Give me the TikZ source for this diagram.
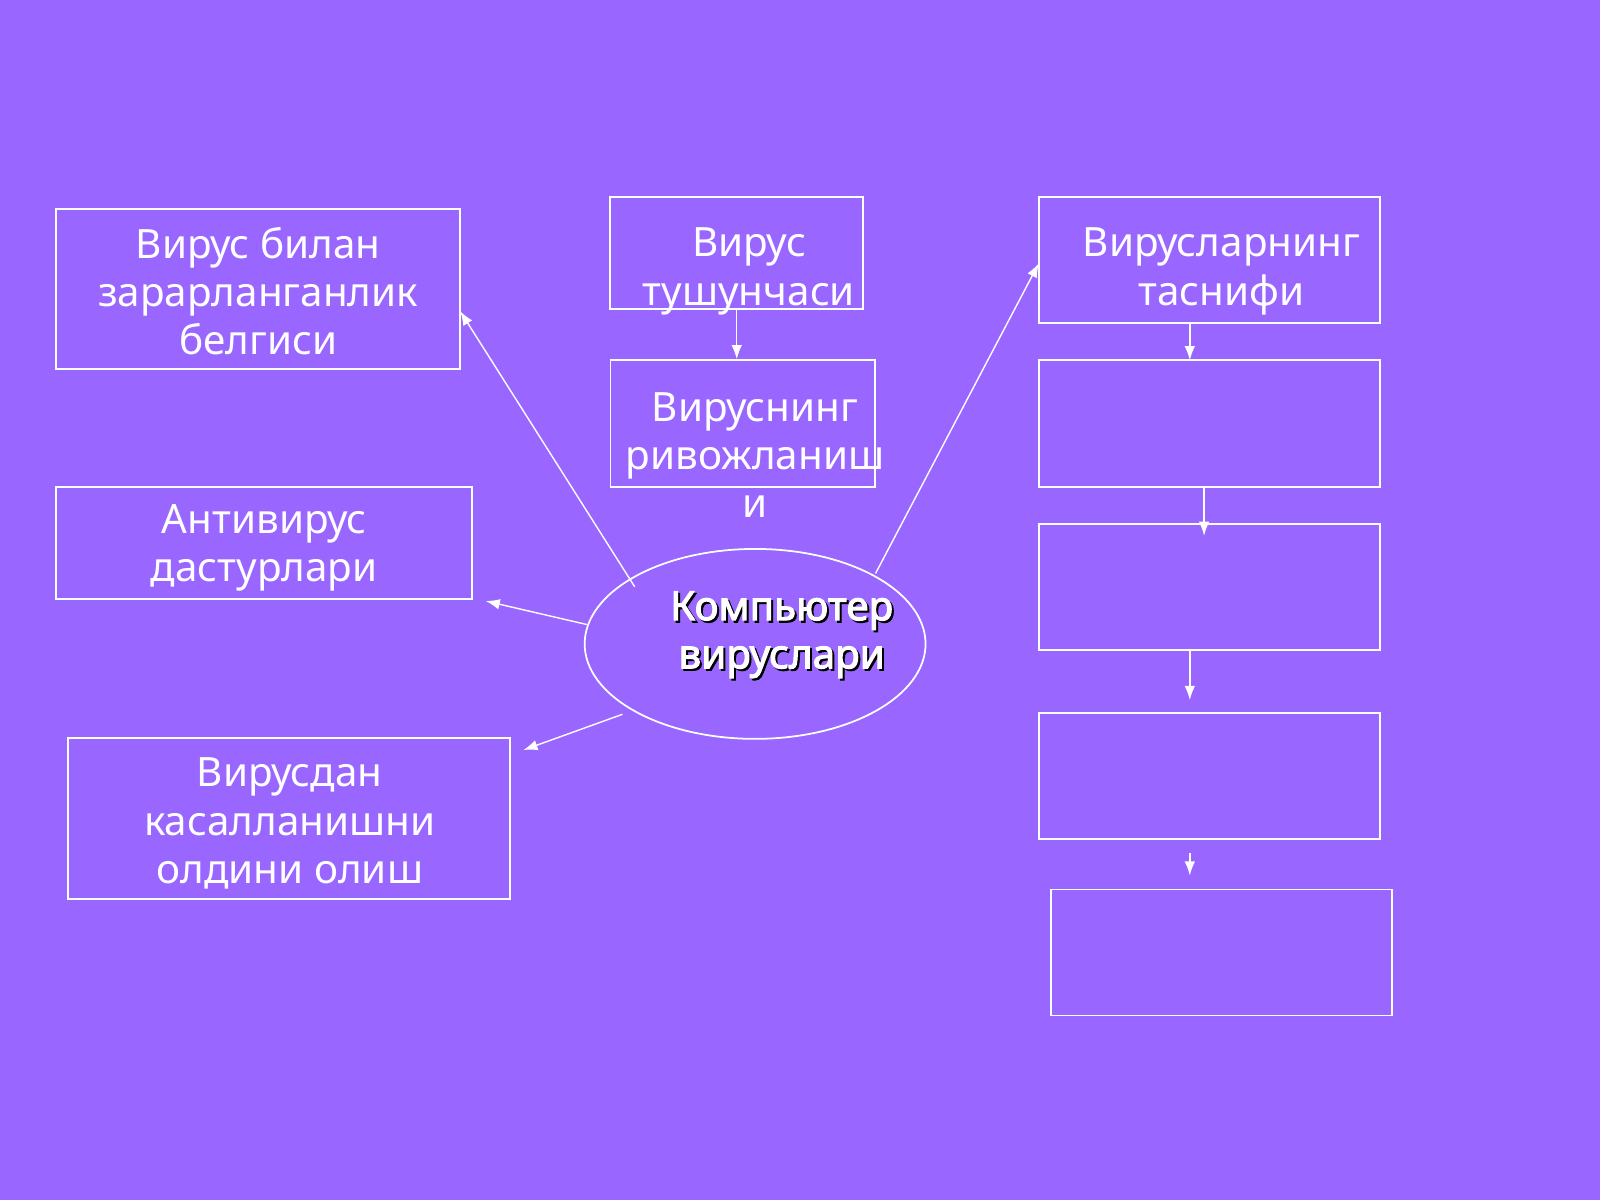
\documentclass[tikz,border=0pt]{standalone}
\usepackage{fontspec}
\setmainfont{Noto Sans}
\newfontfamily\corefont[FakeBold=2.5]{Noto Sans}
\usetikzlibrary{shapes.geometric,arrows.meta}
\definecolor{slidebg}{HTML}{9966FF}

\begin{document}
\begin{tikzpicture}[x=0.010204cm,y=-0.010204cm,
    box/.style={draw=white,line width=0.5pt,inner sep=0pt},
    txt/.style={text=white,align=center,font=\fontsize{11.5}{13.7}\selectfont,inner sep=0pt},
    arr/.style={draw=white,line width=0.4pt,-{Latex[length=4pt,width=3pt]}}]
    \fill[slidebg] (0,0) rectangle (1568,1176);
    \useasboundingbox (0,0) rectangle (1568,1176);
    % boxes
    \node[box,minimum width=4.04cm,minimum height=1.60cm] (sign) at (253,283.5) {};
    \node[box,minimum width=2.53cm,minimum height=1.12cm] (notion) at (722,248) {};
    \node[box,minimum width=2.65cm,minimum height=1.27cm] (growth) at (728,415) {};
    \node[box,minimum width=3.41cm,minimum height=1.26cm] (class) at (1185,254.5) {};
    \node[box,minimum width=3.41cm,minimum height=1.27cm] (c1) at (1185,415) {};
    \node[box,minimum width=3.41cm,minimum height=1.26cm] (c2) at (1185,575.5) {};
    \node[box,minimum width=3.41cm,minimum height=1.26cm] (c3) at (1185,760.5) {};
    \node[box,minimum width=3.41cm,minimum height=1.26cm] (c4) at (1197,933.5) {};
    \node[box,minimum width=4.16cm,minimum height=1.12cm] (anti) at (259,532) {};
    \node[box,minimum width=4.42cm,minimum height=1.61cm] (prev) at (283.5,802) {};
    \node[draw=white,line width=0.5pt,ellipse,minimum width=3.41cm,minimum height=1.90cm,inner sep=0pt] (core) at (740,631) {};
    % texts
    \node[txt] (signtxt) at (253,285) {Вирус билан\\зарарланганлик\\белгиси};
    \node[txt] (notiontxt) at (734,266) {Вирус\\тушунчаси};
    \node[txt] (growthtxt) at (740,446) {Вируснинг\\ривожланиш\\и};
    \node[txt] (classtxt) at (1197,266) {Вирусларнинг\\таснифи};
    \node[txt] (antitxt) at (259,537) {Антивирус\\дастурлари};
    \node[txt] (prevtxt) at (284,807) {Вирусдан\\касалланишни\\олдини олиш};
    \node[txt,text=black,font=\fontsize{11.5}{13.7}\corefont] (coreshadow) at (768,624) {Компьютер\\вируслари};
    \node[txt,font=\fontsize{11.5}{13.7}\corefont] (coretxt) at (766,622) {Компьютер\\вируслари};
    % connectors
    \coordinate (a1) at (622,575);
    \coordinate (a2) at (575,612);
    \coordinate (a3) at (610,700);
    \coordinate (a4) at (858,562);
    \coordinate (t1) at (451,305);
    \coordinate (t2) at (476,589);
    \coordinate (t3) at (513,735);
    \coordinate (t4) at (1018,258);
    \draw[arr] (a1) -- (t1);
    \draw[arr] (a2) -- (t2);
    \draw[arr] (a3) -- (t3);
    \draw[arr] (a4) -- (t4);
    \draw[arr] (notion.south) -- (notion.south |- growth.north);
    \coordinate (v1) at (1166,316);
    \coordinate (v2) at (1166,353);
    \coordinate (v3) at (1180,477);
    \coordinate (v4) at (1180,525);
    \coordinate (v5) at (1166,637);
    \coordinate (v6) at (1166,686);
    \coordinate (v7) at (1166,836);
    \coordinate (v8) at (1166,858);
    \draw[arr] (v1) -- (v2);
    \draw[arr] (v3) -- (v4);
    \draw[arr] (v5) -- (v6);
    \draw[arr] (v7) -- (v8);
\end{tikzpicture}
\end{document}
